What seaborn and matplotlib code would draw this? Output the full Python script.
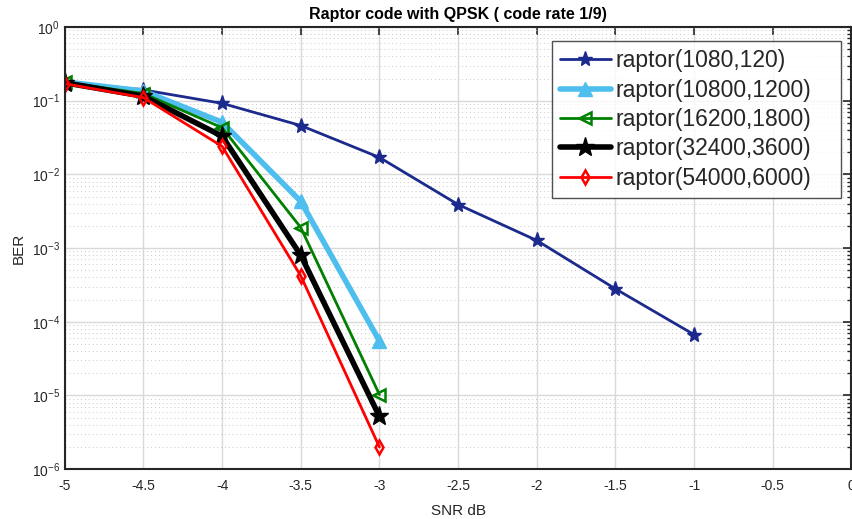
import numpy as np
import pandas as pd
import matplotlib
matplotlib.use("Agg")
import matplotlib.pyplot as plt
import matplotlib.ticker as mticker
import seaborn as sns

# data
snr_long = [-5, -4.5, -4, -3.5, -3, -2.5, -2, -1.5, -1]
snr_short = [-5, -4.5, -4, -3.5, -3]

ber_1080 = [0.18, 0.14, 0.092, 0.046, 0.017, 0.0039, 0.00127, 0.00028, 0.000067]
ber_10800 = [0.18, 0.135, 0.051, 0.0043, 0.000055]
ber_16200 = [0.178, 0.125, 0.043, 0.0019, 0.0000103]
ber_32400 = [0.175, 0.115, 0.033, 0.0008, 0.0000052]
ber_54000 = [0.17, 0.11, 0.024, 0.00042, 0.000002]

labels = ["raptor(1080,120)", "raptor(10800,1200)", "raptor(16200,1800)",
          "raptor(32400,3600)", "raptor(54000,6000)"]

frames = []
for lab, x, y in zip(labels,
                     [snr_long, snr_short, snr_short, snr_short, snr_short],
                     [ber_1080, ber_10800, ber_16200, ber_32400, ber_54000]):
    frames.append(pd.DataFrame({"snr": x, "ber": y, "code": lab}))
df = pd.concat(frames, ignore_index=True)

# line styles per series
styles = {
    labels[0]: dict(color="#1b2a8c", lw=2.0, marker="*", ms=11, mfc="#1b2a8c"),
    labels[1]: dict(color="#4dbeee", lw=4.0, marker="^", ms=10, mfc="#4dbeee"),
    labels[2]: dict(color="#008000", lw=2.0, marker="<", ms=8, mfc="none", mew=1.8),
    labels[3]: dict(color="#000000", lw=4.0, marker="*", ms=14, mfc="#000000"),
    labels[4]: dict(color="#ff0000", lw=2.0, marker="d", ms=7, mfc="none", mew=1.8),
}

sns.set_theme(style="white")
plt.rcParams["font.family"] = ["Liberation Sans", "DejaVu Sans"]
plt.rcParams["mathtext.fontset"] = "custom"
plt.rcParams["mathtext.rm"] = "Liberation Sans"

fig = plt.figure(figsize=(8.53, 5.19), dpi=100)
ax = fig.add_axes([0.076, 0.096, 0.922, 0.852])

for lab in labels:
    st = styles[lab]
    sub = df[df["code"] == lab]
    sns.lineplot(data=sub, x="snr", y="ber", ax=ax, color=st["color"],
                 linewidth=st["lw"], marker=st["marker"], markersize=st["ms"],
                 markerfacecolor=st["mfc"], markeredgecolor=st["color"],
                 markeredgewidth=st.get("mew", 1.0), label=lab, sort=False)

ax.set_yscale("log")
ax.set_xlim(-5, 0)
ax.set_ylim(1e-6, 1)
ax.set_xticks(np.arange(-5, 0.01, 0.5))
ax.xaxis.set_major_formatter(mticker.FuncFormatter(lambda v, p: f"{v:g}"))
ax.yaxis.set_major_locator(mticker.LogLocator(base=10, numticks=10))
ax.yaxis.set_minor_locator(mticker.LogLocator(base=10, subs=np.arange(2, 10), numticks=20))
ax.yaxis.set_minor_formatter(mticker.NullFormatter())

ax.grid(True, which="major", color="#d9d9d9", lw=1.0, ls="-")
ax.yaxis.grid(True, which="minor", color="#c8c8c8", lw=0.7, ls=(0, (1, 3)))
ax.set_axisbelow(True)

ax.tick_params(which="both", direction="in", top=True, right=True,
               colors="#262626", labelsize=10)
ax.tick_params(which="major", length=6, width=1.2)
ax.tick_params(which="minor", length=3, width=1.0)
ax.tick_params(axis="x", pad=7)
for s in ax.spines.values():
    s.set_color("#262626")
    s.set_linewidth(1.5)

ax.set_xlabel("SNR dB", fontsize=11, color="#262626", labelpad=8)
ax.set_ylabel("BER", fontsize=11, color="#262626", labelpad=4)
ax.set_title("Raptor code with QPSK ( code rate 1/9)", fontsize=11.5,
             fontweight="bold", color="black", pad=6)

leg = ax.legend(loc="upper right", bbox_to_anchor=(0.6196, 0.5, 0.3674, 0.468),
                mode="expand", fontsize=16.5,
                frameon=True, fancybox=False, edgecolor="#262626",
                handlelength=2.2, handletextpad=0.2, labelspacing=0.28,
                borderpad=0.35, borderaxespad=0.0)
leg.get_frame().set_linewidth(1.0)

fig.savefig("out.png", dpi=100)
